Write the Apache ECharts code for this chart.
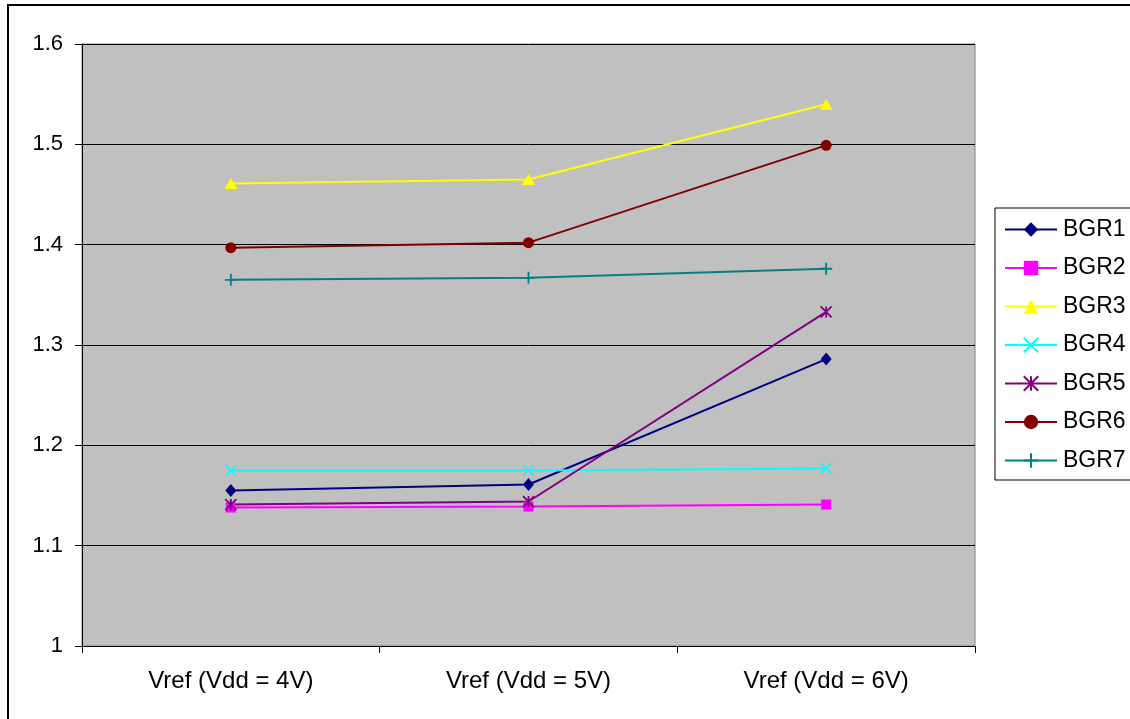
<!DOCTYPE html>
<html>
<head>
<meta charset="utf-8">
<script src="https://cdn.jsdelivr.net/npm/echarts@6/dist/echarts.min.js"></script>
<style>html,body{margin:0;padding:0;background:#fff;}#c{width:1130px;height:719px;}</style>
</head>
<body>
<div id="c"></div>
<script>
var categories = ['Vref (Vdd = 4V)', 'Vref (Vdd = 5V)', 'Vref (Vdd = 6V)'];
var seriesNames = ['BGR1', 'BGR2', 'BGR3', 'BGR4', 'BGR5', 'BGR6', 'BGR7'];
var bgr1 = [1.155, 1.161, 1.286];
var bgr2 = [1.138, 1.139, 1.141];
var bgr3 = [1.461, 1.465, 1.540];
var bgr4 = [1.175, 1.175, 1.177];
var bgr5 = [1.141, 1.144, 1.333];
var bgr6 = [1.397, 1.402, 1.499];
var bgr7 = [1.365, 1.367, 1.376];
var yTicks = {min: 1, max: 1.6, interval: 0.1};

var FONT = 'Liberation Sans, Arial, sans-serif';
var X_PATH = 'path://M0,0L10,10M10,0L0,10';
var AST_PATH = 'path://M0,0L10,10M10,0L0,10M5,0L5,10';
var PLUS_PATH = 'path://M5,0L5,10M0,5L10,5';

var styles = [
  {data: bgr1, color: '#000080', symbol: 'diamond', size: [11, 13], stroke: false},
  {data: bgr2, color: '#FF00FF', symbol: 'rect', size: 10, stroke: false},
  {data: bgr3, color: '#FFFF00', symbol: 'triangle', size: [13, 11], stroke: false},
  {data: bgr4, color: '#00FFFF', symbol: X_PATH, size: 11, stroke: true},
  {data: bgr5, color: '#800080', symbol: AST_PATH, size: 11, stroke: true},
  {data: bgr6, color: '#800000', symbol: 'circle', size: 11, stroke: false},
  {data: bgr7, color: '#008080', symbol: PLUS_PATH, size: 12, stroke: true}
];

var series = styles.map(function (s, i) {
  return {
    name: seriesNames[i],
    type: 'line',
    data: s.data,
    symbol: s.symbol,
    symbolSize: s.size,
    showAllSymbol: true,
    animation: false,
    lineStyle: {color: s.color, width: 2},
    itemStyle: s.stroke ? {color: 'rgba(0,0,0,0)', borderColor: s.color, borderWidth: 1.8} : {color: s.color, borderWidth: 0},
    emphasis: {disabled: true}
  };
});

var chart = echarts.init(document.getElementById('c'), null, {renderer: 'canvas'});
chart.setOption({
  backgroundColor: '#fff',
  animation: false,
  textStyle: {fontFamily: FONT},
  grid: {left: 82, right: 155, top: 44, bottom: 73, show: true, backgroundColor: '#C0C0C0', borderColor: '#808080', borderWidth: 1, containLabel: false},
  xAxis: {
    type: 'category',
    data: categories,
    boundaryGap: true,
    axisLine: {lineStyle: {color: '#000', width: 1}},
    axisTick: {show: true, inside: false, length: 7, lineStyle: {color: '#000'}},
    axisLabel: {color: '#000', fontSize: 24, fontFamily: FONT, margin: 23},
    splitLine: {show: false}
  },
  yAxis: {
    type: 'value',
    min: yTicks.min,
    max: yTicks.max,
    interval: yTicks.interval,
    axisLine: {show: true, lineStyle: {color: '#000', width: 1}},
    axisTick: {show: true, inside: false, length: 7, lineStyle: {color: '#000'}},
    axisLabel: {color: '#000', fontSize: 22, fontFamily: FONT, margin: 19},
    splitLine: {show: true, lineStyle: {color: '#000', width: 1}}
  },
  legend: {
    orient: 'vertical',
    left: 995,
    top: 208,
    padding: [10, 30, 8, 9],
    itemWidth: 52,
    itemHeight: 18,
    itemGap: 15.5,
    borderColor: '#000',
    borderWidth: 1,
    backgroundColor: '#fff',
    textStyle: {color: '#000', fontSize: 23, fontFamily: FONT, lineHeight: 23, padding: [0, 0, 0, 1]},
    data: seriesNames
  },
  graphic: [{
    type: 'rect',
    z: -10,
    silent: true,
    shape: {x: 8, y: 5, width: 1300, height: 900},
    style: {fill: 'none', stroke: '#000', lineWidth: 2}
  }],
  series: series
});
</script>
</body>
</html>
